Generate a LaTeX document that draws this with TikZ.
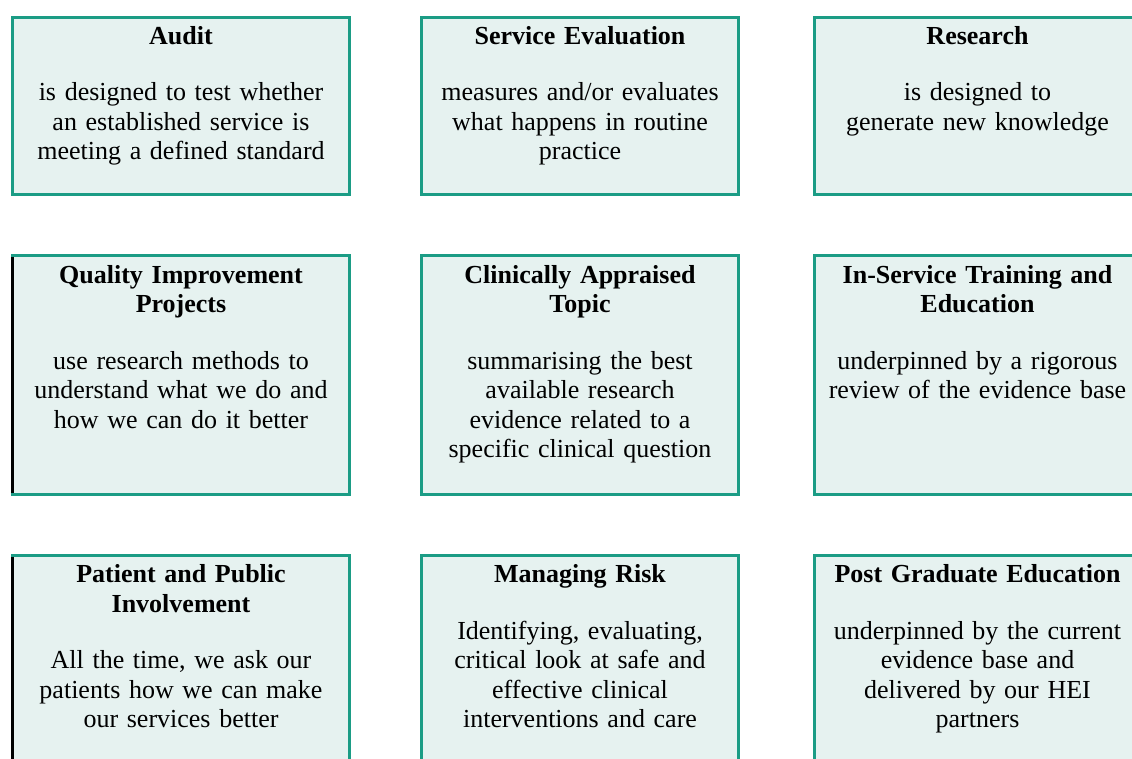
\documentclass[tikz,border=0pt]{standalone}
\usepackage{fontspec}
\setmainfont{Liberation Serif}
\definecolor{cardline}{HTML}{1B9C85}
\definecolor{cardfill}{HTML}{E6F2F0}
\tikzset{
  card/.style={draw=cardline, fill=cardfill, line width=3pt},
  cardtext/.style={anchor=north, text width=336pt, align=center, inner sep=0pt,
    font=\fontsize{26}{29.5}\selectfont},
}
\newcommand{\cardhead}[1]{\strut{\bfseries #1}\\[27pt]}

\begin{document}
\begin{tikzpicture}[x=1pt,y=-1pt]
    \useasboundingbox (0,0) rectangle (1132,758);
    \clip (0,0) rectangle (1132,758);
    % boxes
    \draw[card] (12.5,17.5) rectangle (349.5,194.5);
    \draw[card] (421.5,17.5) rectangle (738.5,194.5);
    \draw[card] (814.5,17.5) rectangle (1142,194.5);
    \draw[card] (12.5,255.5) rectangle (349.5,494.5);
    \draw[card] (421.5,255.5) rectangle (738.5,494.5);
    \draw[card] (814.5,255.5) rectangle (1142,494.5);
    \draw[card] (12.5,555.5) rectangle (349.5,780);
    \draw[card] (421.5,555.5) rectangle (738.5,780);
    \draw[card] (814.5,555.5) rectangle (1142,780);
    \draw[line width=3pt] (12.5,257) -- (12.5,493);
    \draw[line width=3pt] (12.5,557) -- (12.5,780);
    % row 1
    \node[cardtext] (audit) at (181,23.5) {\cardhead{Audit}
      is designed to test whether\\an established service is\\meeting a defined standard};
    \node[cardtext] (serveval) at (580,23.5) {\cardhead{Service Evaluation}
      measures and/or evaluates\\what happens in routine\\practice};
    \node[cardtext] (research) at (977.5,23.5) {\cardhead{Research}
      is designed to\\generate new knowledge};
    % row 2
    \node[cardtext] (qip) at (181,262.3) {\cardhead{Quality Improvement\\Projects}
      use research methods to\\understand what we do and\\how we can do it better};
    \node[cardtext] (cat) at (580,262.3) {\cardhead{Clinically Appraised\\Topic}
      summarising the best\\available research\\evidence related to a\\specific clinical question};
    \node[cardtext] (training) at (977.5,262.3) {\cardhead{In-Service Training and\\Education}
      underpinned by a rigorous\\review of the evidence base};
    % row 3
    \node[cardtext] (ppi) at (181,562) {\cardhead{Patient and Public\\Involvement}
      All the time, we ask our\\patients how we can make\\our services better};
    \node[cardtext] (risk) at (580,562) {\cardhead{Managing Risk}
      Identifying, evaluating,\\critical look at safe and\\effective clinical\\interventions and care};
    \node[cardtext] (pged) at (977.5,562) {\cardhead{Post Graduate Education}
      underpinned by the current\\evidence base and\\delivered by our HEI\\partners};
\end{tikzpicture}
\end{document}
